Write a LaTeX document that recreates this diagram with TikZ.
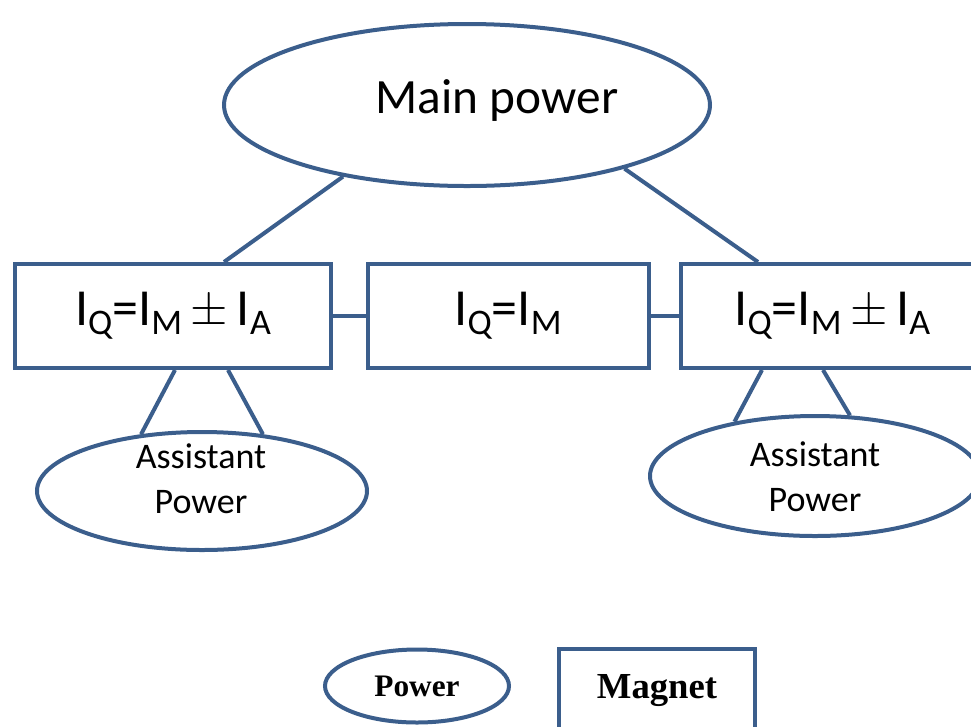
\documentclass[tikz,border=0pt]{standalone}
\usepackage{fontspec}
\setmainfont{Carlito}
\newfontfamily\legendfont{Liberation Serif}
\usetikzlibrary{shapes.geometric}
\usetikzlibrary{calc}

\definecolor{linkblue}{RGB}{59,94,140}
\newcommand\lowsub[1]{\raisebox{-0.35ex}{\fontsize{27}{27}\selectfont #1}}
\newcommand\plusminus{\,\raisebox{0.05ex}{\scalebox{1.45}{$\pm$}}\,}

\begin{document}
\begin{tikzpicture}[x=0.75pt,y=-0.75pt, line width=3pt, draw=linkblue,
    supply/.style={ellipse, draw=linkblue, inner sep=0pt},
    magnet/.style={rectangle, draw=linkblue, inner sep=0pt, minimum height=104*0.75pt},
    boxtext/.style={font=\fontsize{39}{42}\selectfont},
    auxtext/.style={align=center, font=\fontsize{27}{34}\selectfont}]
 	 % Picture frame, the right side is cut as in the reference
 	 \clip (0,0) rectangle (971,726);

 	 % Power supplies
 	 \node[supply, minimum width=486*0.75pt, minimum height=162*0.75pt] (main) at (467,105) {};
 	 \node[font=\fontsize{37}{40}\selectfont] (maintext) at (497,100) {Main power};
 	 \node[supply, minimum width=330*0.75pt, minimum height=118*0.75pt] (leftaux) at (202,491) {};
 	 \node[auxtext] (leftauxtext) at (201,479) {Assistant\\Power};
 	 \node[supply, minimum width=330*0.75pt, minimum height=120*0.75pt] (rightaux) at (815,476) {};
 	 \node[auxtext] (rightauxtext) at (815,477) {Assistant\\Power};

 	 % Magnets
 	 \node[magnet, boxtext, minimum width=316*0.75pt] (leftmag) at (173,316)
 	     {I\lowsub{Q}=I\lowsub{M}\plusminus I\lowsub{A}};
 	 \node[magnet, boxtext, minimum width=281*0.75pt] (midmag) at (508,316)
 	     {I\lowsub{Q}=I\lowsub{M}};
 	 \node[magnet, boxtext, minimum width=316*0.75pt] (rightmag) at (839,316)
 	     {\hspace*{-10pt}I\lowsub{Q}=I\lowsub{M}\plusminus I\lowsub{A}};

 	 % Links between them
 	 \draw (main.210) -- ($(leftmag.north)+(51,0)$);
 	 \draw (main.-22) -- ($(rightmag.north)+(-81,0)$);
 	 \draw (leftmag) -- (midmag);
 	 \draw (midmag) -- (rightmag);
 	 \draw ($(leftmag.south)+(2,0)$) -- (leftaux.137.6);
 	 \draw ($(leftmag.south)+(55,0)$) -- (leftaux.43.5);
 	 \draw ($(rightmag.south)+(-77,0)$) -- (rightaux.146.3);
 	 \draw ($(rightmag.south)+(-16,0)$) -- (rightaux.60.7);

 	 % Legend
 	 \node[supply, minimum width=184*0.75pt, minimum height=73*0.75pt,
 	       font=\legendfont\bfseries\fontsize{23.5}{26}\selectfont] (keypower) at (417,686) {Power};
 	 \node[magnet, minimum width=196*0.75pt, minimum height=84*0.75pt,
 	       font=\legendfont\bfseries\fontsize{27.5}{30}\selectfont] (keymagnet) at (657,691) {Magnet};
\end{tikzpicture}
\end{document}
